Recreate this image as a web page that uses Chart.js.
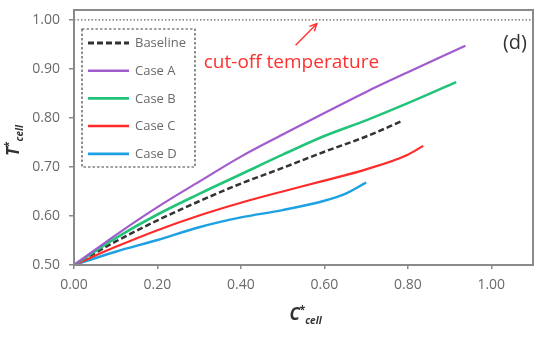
<!DOCTYPE html>
<html><head><meta charset="utf-8">
<script src="https://cdn.jsdelivr.net/npm/chart.js@4"></script>
<style>html,body{margin:0;padding:0;background:#fff}</style>
</head><body>
<canvas id="c" width="552" height="338"></canvas>
<script>
// ---- data ----
const xTickValues = [0.0, 0.2, 0.4, 0.6, 0.8, 1.0];
const yTickValues = [0.5, 0.6, 0.7, 0.8, 0.9, 1.0];
const seriesNames = ['Baseline', 'Case A', 'Case B', 'Case C', 'Case D'];

const baselineC = [0, 0.1, 0.2, 0.3, 0.4, 0.5, 0.6, 0.7, 0.787];
const baselineT = [0.5, 0.548, 0.591, 0.630, 0.666, 0.698, 0.731, 0.762, 0.794];

const caseAC = [0, 0.1, 0.2, 0.3, 0.4, 0.5, 0.6, 0.7, 0.8, 0.938];
const caseAT = [0.5, 0.561, 0.618, 0.670, 0.721, 0.766, 0.810, 0.853, 0.893, 0.947];

const caseBC = [0, 0.1, 0.2, 0.3, 0.4, 0.5, 0.6, 0.7, 0.8, 0.916];
const caseBT = [0.5, 0.555, 0.603, 0.645, 0.685, 0.725, 0.763, 0.795, 0.830, 0.873];

const caseCC = [0, 0.1, 0.2, 0.3, 0.4, 0.5, 0.6, 0.7, 0.8, 0.837];
const caseCT = [0.5, 0.537, 0.571, 0.601, 0.627, 0.650, 0.672, 0.695, 0.725, 0.743];

const caseDC = [0, 0.1, 0.2, 0.3, 0.4, 0.5, 0.6, 0.65, 0.7];
const caseDT = [0.5, 0.527, 0.551, 0.577, 0.597, 0.612, 0.631, 0.645, 0.668];

const cutoffC = [0, 1.1];
const cutoffT = [1.0, 1.0];

// ---- styles ----
const colors = ['#333333', '#a05ccc', '#22c47a', '#ff2b2b', '#1ea1e3'];
const dashes = [[6, 3], [], [], [], []];
const widths = [2.5, 2.2, 2.6, 2.2, 2.4];

function pts(xs, ys) { return xs.map((x, i) => ({x: x, y: ys[i]})); }
const seriesData = [pts(baselineC, baselineT), pts(caseAC, caseAT), pts(caseBC, caseBT), pts(caseCC, caseCT), pts(caseDC, caseDT)];

const datasets = [{
  label: 'cut-off', data: pts(cutoffC, cutoffT), borderColor: '#666', borderWidth: 1.2,
  borderDash: [1.5, 2], pointRadius: 0, tension: 0
}];
// draw order: cases first, baseline on top
[1, 2, 3, 4, 0].forEach(i => {
  datasets.push({
    label: seriesNames[i], data: seriesData[i], borderColor: colors[i], borderWidth: widths[i],
    borderDash: dashes[i], pointRadius: 0, cubicInterpolationMode: 'monotone', fill: false
  });
});

const AX = '#8a8a8a';
const TXT = '#6a6a6a';
const FONT = '"Open Sans", "DejaVu Sans", sans-serif';

const decor = {
  id: 'decor',
  afterDraw(chart) {
    const ctx = chart.ctx, a = chart.chartArea;
    const xs = chart.scales.x, ys = chart.scales.y;
    ctx.save();
    // plot frame
    ctx.strokeStyle = AX; ctx.lineWidth = 2; ctx.setLineDash([]);
    ctx.strokeRect(a.left, a.top, a.right - a.left, a.bottom - a.top);

    // legend box
    const bx = 82, by = 29, bw = 113, bh = 138;
    ctx.strokeStyle = '#444'; ctx.lineWidth = 1.2; ctx.setLineDash([2.5, 2]);
    ctx.strokeRect(bx, by, bw, bh);
    ctx.font = '13px ' + FONT; ctx.textBaseline = 'middle'; ctx.textAlign = 'left';
    seriesNames.forEach((n, i) => {
      const yy = 43 + i * 27.7;
      ctx.beginPath(); ctx.setLineDash(dashes[i]); ctx.strokeStyle = colors[i]; ctx.lineWidth = widths[i] + 0.3;
      ctx.moveTo(88, yy); ctx.lineTo(129, yy); ctx.stroke();
      ctx.fillStyle = TXT; ctx.fillText(n, 135, yy + 0.5);
    });
    ctx.setLineDash([]);

    // annotation
    ctx.fillStyle = '#ff3030'; ctx.font = '19px ' + FONT; ctx.textBaseline = 'middle';
    ctx.fillText('cut-off temperature', xs.getPixelForValue(0.311), ys.getPixelForValue(0.913));
    const x1 = xs.getPixelForValue(0.531), y1 = ys.getPixelForValue(0.948);
    const x2 = xs.getPixelForValue(0.582), y2 = ys.getPixelForValue(0.992);
    ctx.strokeStyle = '#ff3030'; ctx.lineWidth = 1.4;
    ctx.beginPath(); ctx.moveTo(x1, y1); ctx.lineTo(x2, y2); ctx.stroke();
    const ang = Math.atan2(y2 - y1, x2 - x1), L = 8;
    ctx.beginPath();
    ctx.moveTo(x2 - L * Math.cos(ang - 0.45), y2 - L * Math.sin(ang - 0.45));
    ctx.lineTo(x2, y2);
    ctx.lineTo(x2 - L * Math.cos(ang + 0.45), y2 - L * Math.sin(ang + 0.45));
    ctx.stroke();

    // panel label
    ctx.fillStyle = '#333'; ctx.font = '20px ' + FONT; ctx.textAlign = 'right';
    ctx.fillText('(d)', a.right - 6, 43);

    // axis titles
    function title(main, cx, cy) {
      ctx.textAlign = 'left'; ctx.textBaseline = 'alphabetic'; ctx.fillStyle = '#333';
      const f1 = 'italic bold 17px ' + FONT, f2 = 'bold 10px ' + FONT, f3 = 'italic bold 10px ' + FONT;
      ctx.font = f1; const w1 = ctx.measureText(main).width;
      ctx.font = f2; const w2 = ctx.measureText('*').width;
      ctx.font = f3; const w3 = ctx.measureText('cell').width;
      const tot = w1 + w2 + w3;
      let x = cx - tot / 2;
      ctx.font = f1; ctx.fillText(main, x, cy); x += w1;
      ctx.font = f2; ctx.fillText('*', x, cy - 7); x += w2;
      ctx.font = f3; ctx.fillText('cell', x, cy + 4);
    }
    title('C', (a.left + a.right) / 2 + 2, 320);
    ctx.save();
    ctx.translate(19, (a.top + a.bottom) / 2 + 3);
    ctx.rotate(-Math.PI / 2);
    title('T', 0, 0);
    ctx.restore();
    ctx.restore();
  }
};

new Chart(document.getElementById('c'), {
  type: 'line',
  data: { datasets: datasets },
  options: {
    responsive: false, animation: false, devicePixelRatio: 1,
    layout: { padding: { top: 10, right: 19, left: 0, bottom: 0 } },
    plugins: { legend: { display: false }, tooltip: { enabled: false } },
    scales: {
      x: {
        type: 'linear', min: 0, max: 1.1,
        afterFit(s) { s.height = 73; s.paddingLeft = 0; s.paddingRight = 0; },
        afterBuildTicks(s) { s.ticks = xTickValues.map(v => ({value: v})); },
        border: { display: false },
        grid: { drawOnChartArea: false, drawTicks: true, tickLength: 4, color: AX, lineWidth: 1.5 },
        ticks: { padding: 8, color: TXT, font: { family: FONT, size: 14 }, callback: v => Number(v).toFixed(2), maxRotation: 0 }
      },
      y: {
        type: 'linear', min: 0.5, max: 1.02,
        afterFit(s) { s.width = 74; s.paddingTop = 0; s.paddingBottom = 0; },
        afterBuildTicks(s) { s.ticks = yTickValues.map(v => ({value: v})); },
        border: { display: false },
        grid: { drawOnChartArea: false, drawTicks: true, tickLength: 5, color: AX, lineWidth: 1.5 },
        ticks: { padding: 9, color: TXT, font: { family: FONT, size: 14 }, callback: v => Number(v).toFixed(2) }
      }
    }
  },
  plugins: [decor]
});
</script>
</body></html>
